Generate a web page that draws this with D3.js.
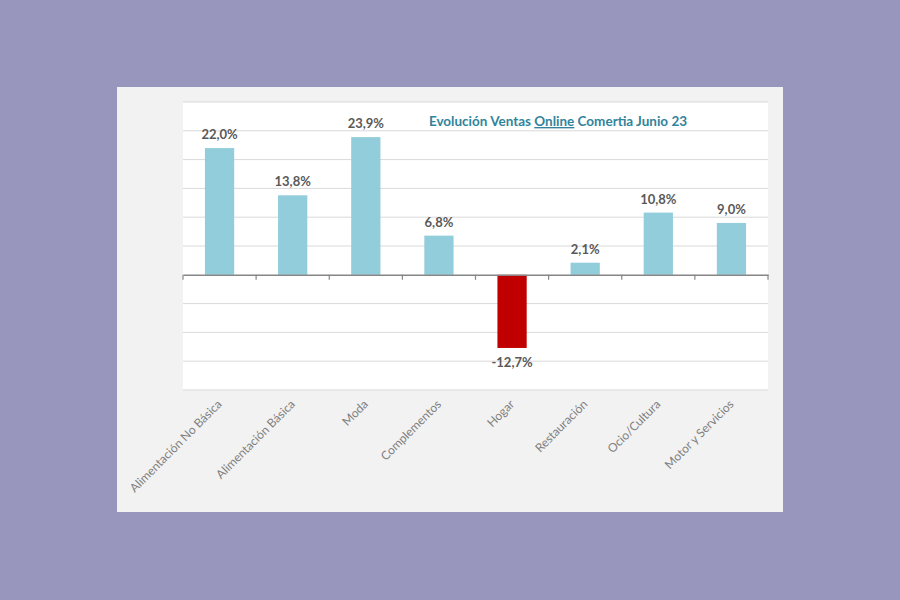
<!DOCTYPE html>
<html><head><meta charset="utf-8">
<script src="https://cdn.jsdelivr.net/npm/d3@7"></script>
<style>body{margin:0;background:#9996be;}svg{display:block;}</style>
</head><body>
<svg id="c" width="900" height="600"></svg>
<script>
const categories = ["Alimentación No Básica","Alimentación Básica","Moda","Complementos","Hogar","Restauración","Ocio/Cultura","Motor y Servicios"];
const values = [22.0, 13.8, 23.9, 6.8, -12.7, 2.1, 10.8, 9.0];
const gridTicks = [-20,-15,-10,-5,0,5,10,15,20,25,30];

const svg = d3.select("#c");
const font = "Lato, 'Open Sans', sans-serif";
svg.append("rect").attr("x",0).attr("y",0).attr("width",900).attr("height",600).attr("fill","#9996be");
svg.append("rect").attr("x",117).attr("y",87).attr("width",666).attr("height",425).attr("fill","#f2f2f2");

const pLeft=183, pRight=768, pTop=102, pBottom=390;
svg.append("rect").attr("x",pLeft).attr("y",pTop).attr("width",pRight-pLeft).attr("height",pBottom-pTop).attr("fill","#ffffff");

const x = d3.scaleBand().domain(categories).range([pLeft,pRight]).paddingInner(0.6).paddingOuter(0.3);
const y = d3.scaleLinear().domain([-20,30]).range([pBottom,pTop]);

svg.append("g").selectAll("line").data(gridTicks.filter(d=>d!==0)).join("line")
  .attr("x1",pLeft).attr("x2",pRight).attr("y1",d=>y(d)).attr("y2",d=>y(d))
  .attr("stroke","#d9d9d9").attr("stroke-width",1);

svg.append("g").selectAll("rect").data(values).join("rect")
  .attr("x",(d,i)=>x(categories[i])).attr("width",x.bandwidth())
  .attr("y",d=>y(Math.max(0,d))).attr("height",d=>Math.abs(y(d)-y(0)))
  .attr("fill",d=>d<0?"#c00000":"#92cddc");

// axis at zero
const xb = d3.scaleBand().domain(categories).range([pLeft,pRight]);
const ax = d3.axisBottom(xb).tickSize(0).tickFormat("");
const axG = svg.append("g").attr("transform",`translate(0,${y(0)})`).call(ax);
axG.select(".domain").attr("stroke","#868686").attr("stroke-width",1.5);
const bounds = categories.map(c=>xb(c)).concat([pRight]);
svg.append("g").selectAll("line").data(bounds).join("line")
  .attr("x1",d=>d).attr("x2",d=>d).attr("y1",y(0)).attr("y2",y(0)+5)
  .attr("stroke","#868686").attr("stroke-width",1.2);

// value labels
svg.append("g").selectAll("text").data(values).join("text")
  .attr("x",(d,i)=>x(categories[i])+x.bandwidth()/2)
  .attr("y",d=>d<0?y(d)+19:y(d)-9)
  .attr("text-anchor","middle").attr("font-family",font).attr("font-weight","bold")
  .attr("font-size","13px").attr("fill","#595959")
  .text(d=>d.toFixed(1).replace(".",",")+"%");

// category labels
svg.append("g").selectAll("text").data(categories).join("text")
  .attr("transform",c=>`translate(${xb(c)+xb.bandwidth()/2+3},${pBottom+15}) rotate(-45)`)
  .attr("text-anchor","end").attr("font-family",font).attr("font-size","12px").attr("fill","#7f7f7f")
  .text(c=>c);

// title
const t = svg.append("text").attr("x",558).attr("y",126).attr("text-anchor","middle")
  .attr("font-family",font).attr("font-weight","bold").attr("font-size","13.5px").attr("fill","#31849b");
t.append("tspan").text("Evolución Ventas ");
t.append("tspan").attr("text-decoration","underline").text("Online");
t.append("tspan").text(" Comertia Junio 23");
</script>
</body></html>
